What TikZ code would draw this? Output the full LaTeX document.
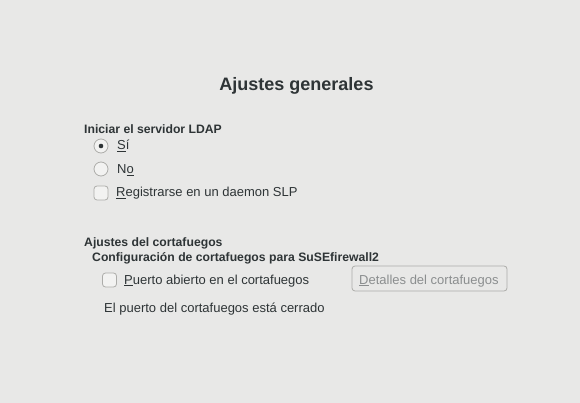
\documentclass[tikz,border=0pt]{standalone}
\usepackage{fontspec}
\setmainfont{Liberation Sans}
\definecolor{bg}{HTML}{E8E8E7}
\definecolor{fg}{HTML}{2E3436}
\definecolor{dim}{HTML}{8B8E8F}
\definecolor{edge}{HTML}{ACACA9}
\definecolor{boxfill}{HTML}{F2F2F1}
\tikzset{
  lbl/.style={anchor=base west,inner sep=0pt,text=fg,font=\fontsize{13}{15}\selectfont},
  head/.style={lbl,font=\fontsize{12.2}{14}\selectfont\bfseries},
  radiobtn/.style={circle,draw=edge,fill=boxfill,minimum size=14pt,inner sep=0pt,line width=0.8pt},
  checkbtn/.style={rectangle,rounded corners=3pt,draw=edge,fill=boxfill,minimum size=14pt,inner sep=0pt,line width=0.8pt},
  pushbtn/.style={rectangle,rounded corners=3pt,draw=edge,fill=bg,line width=0.8pt,minimum width=155pt,minimum height=25pt,inner sep=0pt}
}
\begin{document}
\begin{tikzpicture}[x=1pt,y=-1pt]
\fill[bg] (0,0) rectangle (580,403);
\useasboundingbox (0,0) rectangle (580,403);
\node[anchor=base,inner sep=0pt,text=fg,font=\fontsize{18}{21}\selectfont\bfseries] (title) at (296.5,90.5) {Ajustes generales};
\node[head] (ldap) at (84,133.3) {Iniciar el servidor LDAP};
\node[radiobtn] (r1) at (101,146) {};
\fill[fg] (r1.center) circle (2.3pt);
\node[lbl] (si) at (117,150) {\underline{S}í};
\node[radiobtn] (r2) at (101,169) {};
\node[lbl] (no) at (117,173.3) {N\underline{o}};
\node[checkbtn] (c1) at (101,193) {};
\node[lbl] (slp) at (116,196.7) {\underline{R}egistrarse en un daemon SLP};
\node[head] (fw) at (84,246.5) {Ajustes del cortafuegos};
\node[head] (conf) at (92,261.7) {Configuración de cortafuegos para SuSEfirewall2};
\node[checkbtn] (c2) at (109.5,280) {};
\node[lbl] (port) at (124,284) {\underline{P}uerto abierto en el cortafuegos};
\node[pushbtn] (btn) at (429.5,278.5) {};
\node[lbl,text=dim] (det) at (359,284) {\underline{D}etalles del cortafuegos};
\node[lbl] (closed) at (104,312.3) {El puerto del cortafuegos está cerrado};
\end{tikzpicture}
\end{document}
